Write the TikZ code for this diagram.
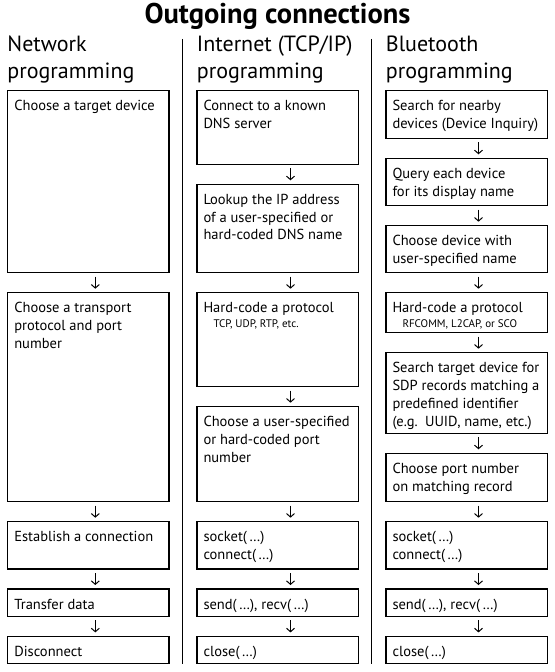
\documentclass[tikz,border=0pt]{standalone}
\usepackage{fontspec}
\setmainfont{PT Sans}
\usetikzlibrary{positioning,arrows.meta}

\newcommand{\stepbody}[2]{\parbox[t][#1][t]{148bp}{\rule{0pt}{20bp}#2}}
\newcommand{\subnote}[1]{\\[-3.3bp]\hspace*{10bp}{\fontsize{11bp}{12bp}\selectfont #1}}

\tikzset{
  stepbox/.style={draw,line width=1.2bp,inner xsep=6.6bp,inner ysep=0pt,outer sep=0pt,
    font=\fontsize{14.5bp}{17.8bp}\selectfont},
  flow/.style={-{Straight Barb[length=3.5bp,width=8bp]},line width=1bp,
    shorten <=4bp,shorten >=4bp},
  heading/.style={anchor=base west,align=left,inner sep=0pt,
    font=\fontsize{22bp}{27.3bp}\selectfont},
  divider/.style={line width=1bp},
}

\begin{document}
\begin{tikzpicture}[x=1bp,y=-1bp,node distance=20bp]
\useasboundingbox (0,0) rectangle (555,672);

\node[anchor=base,inner sep=0pt,font=\bfseries\fontsize{28.5bp}{29bp}\selectfont] (title) at (277.5,23.3) {Outgoing connections};

% base is the last line
\node[heading] (nethead) at (7.3,79) {Network\\programming};
\node[heading] (tcphead) at (196.7,79) {Internet (TCP/IP)\\programming};
\node[heading] (bthead) at (385.7,79) {Bluetooth\\programming};

\draw[divider] (182.7,39) -- (182.7,664);
\draw[divider] (371.7,39) -- (371.7,664);

% network programming
\node[stepbox,anchor=north] (net1) at (88.3,90.7) {\stepbody{182bp}{Choose a target device}};
\node[stepbox,below=of net1] (net2) {\stepbody{209bp}{Choose a transport\\protocol and port\\number}};
\node[stepbox,below=of net2] (net3) {\stepbody{47.3bp}{Establish a connection}};
\node[stepbox,below=of net3] (net4) {\stepbody{27.4bp}{Transfer data}};
\node[stepbox,below=of net4] (net5) {\stepbody{27.4bp}{Disconnect}};

% internet (tcp/ip) programming
\node[stepbox,anchor=north] (tcp1) at (277.5,90.7) {\stepbody{73.6bp}{Connect to a known\\DNS server}};
\node[stepbox,below=of tcp1] (tcp2) {\stepbody{88.4bp}{Lookup the IP address\\of a user-specified or\\hard-coded DNS name}};
\node[stepbox,below=of tcp2] (tcp3) {\stepbody{94bp}{Hard-code a protocol\subnote{TCP, UDP, RTP, etc.}}};
\node[stepbox,below=of tcp3] (tcp4) {\stepbody{95bp}{Choose a user-specified\\or hard-coded port\\number}};
\node[stepbox,below=of tcp4] (tcp5) {\stepbody{47.3bp}{socket(\,\ldots)\\connect(\,\ldots)}};
\node[stepbox,below=of tcp5] (tcp6) {\stepbody{27.4bp}{send(\,\ldots), recv(\,\ldots)}};
\node[stepbox,below=of tcp6] (tcp7) {\stepbody{27.4bp}{close(\,\ldots)}};

% bluetooth programming
\node[stepbox,anchor=north] (bt1) at (466.5,90.7) {\stepbody{47.6bp}{Search for nearby\\devices (Device Inquiry)}};
\node[stepbox,below=of bt1] (bt2) {\stepbody{47.4bp}{Query each device\\for its display name}};
\node[stepbox,below=of bt2] (bt3) {\stepbody{47bp}{Choose device with\\user-specified name}};
\node[stepbox,below=of bt3] (bt4) {\stepbody{40bp}{Hard-code a protocol\subnote{RFCOMM, L2CAP, or SCO}}};
\node[stepbox,below=of bt4] (bt5) {\stepbody{80.6bp}{Search target device for\\SDP records matching a\\predefined identifier\\(e.g.\enspace UUID, name, etc.)}};
\node[stepbox,below=of bt5] (bt6) {\stepbody{48.4bp}{Choose port number\\on matching record}};
\node[stepbox,below=of bt6] (bt7) {\stepbody{47.3bp}{socket(\,\ldots)\\connect(\,\ldots)}};
\node[stepbox,below=of bt7] (bt8) {\stepbody{27.4bp}{send(\,\ldots), recv(\,\ldots)}};
\node[stepbox,below=of bt8] (bt9) {\stepbody{27.4bp}{close(\,\ldots)}};

% arrows
\foreach \a/\b/\s in {net1/net2/7,net2/net3/7,net3/net4/7,net4/net5/7,
  tcp1/tcp2/13,tcp2/tcp3/13,tcp3/tcp4/13,tcp4/tcp5/13,tcp5/tcp6/13,tcp6/tcp7/13,
  bt1/bt2/12,bt2/bt3/12,bt3/bt4/12,bt4/bt5/12,bt5/bt6/12,bt6/bt7/12,bt7/bt8/12,bt8/bt9/12}
  \draw[flow] ([xshift=\s bp]\a.south) -- ([xshift=\s bp]\b.north);
\end{tikzpicture}
\end{document}
